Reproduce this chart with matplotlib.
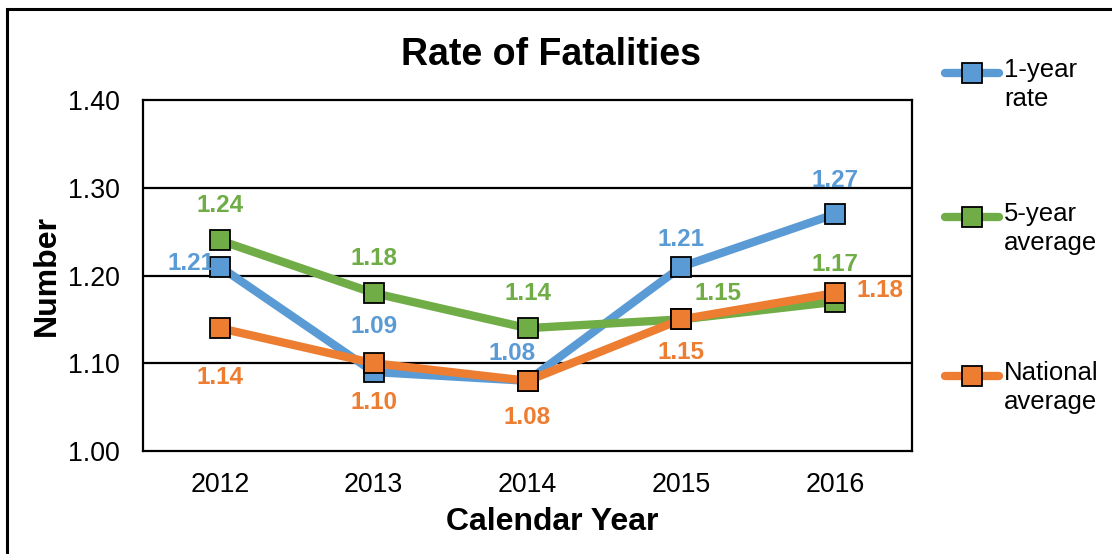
import matplotlib
matplotlib.use('Agg')
import matplotlib.pyplot as plt
from matplotlib.lines import Line2D
from matplotlib.patches import Rectangle

plt.rcParams['font.family'] = ['Liberation Sans', 'DejaVu Sans']

years = ['2012', '2013', '2014', '2015', '2016']
one_year = [1.21, 1.09, 1.08, 1.21, 1.27]
five_year = [1.24, 1.18, 1.14, 1.15, 1.17]
national = [1.14, 1.10, 1.08, 1.15, 1.18]
series_names = ['1-year\nrate', '5-year\naverage', 'National\naverage']
colors = ['#5B9BD5', '#70AD47', '#ED7D31']

# label offsets in pixels (dx, dy), y up
offsets = [
    [(-29, 3), (0, 46), (-15, 27), (0, 27), (0, 34)],
    [(0, 35), (0, 35), (0, 35), (37, 26), (0, 37)],
    [(0, -49), (0, -39), (0, -37), (0, -33), (45, 3)],
]

fig = plt.figure(figsize=(11.12, 5.54), dpi=100)
fig.patch.set_facecolor('white')
ax = fig.add_axes([143 / 1112, 1 - 451 / 554, 769 / 1112, 351 / 554])

x = list(range(len(years)))
for vals, c, offs in zip([one_year, five_year, national], colors, offsets):
    ax.plot(x, vals, color=c, lw=6, marker='s', ms=14.5,
            mfc=c, mec='black', mew=1.3, solid_capstyle='round', zorder=3)
    for xi, v, (dx, dy) in zip(x, vals, offs):
        ax.annotate(f'{v:.2f}', (xi, v), xytext=(dx, dy), textcoords='offset pixels',
                    ha='center', va='center', fontsize=17.5, fontweight='bold',
                    color=c, zorder=4)

ax.set_xlim(-0.5, len(years) - 0.5)
ax.set_ylim(1.0, 1.4)
ax.set_yticks([1.0, 1.1, 1.2, 1.3, 1.4])
ax.set_yticklabels(['1.00', '1.10', '1.20', '1.30', '1.40'])
ax.set_xticks(x)
ax.set_xticklabels(years)
ax.tick_params(axis='both', length=0, labelsize=19.3)
ax.tick_params(axis='y', pad=17)
ax.tick_params(axis='x', pad=15)
for y in [1.1, 1.2, 1.3]:
    ax.axhline(y, color='black', lw=1.6, zorder=1)
for s in ax.spines.values():
    s.set_linewidth(1.6)
    s.set_color('black')

ax.set_xlabel('Calendar Year', fontsize=23, fontweight='bold', labelpad=9)
ax.xaxis.set_label_coords(0.532, -0.16)
ax.set_ylabel('Number', fontsize=23, fontweight='bold', labelpad=4)
fig.text(551 / 1112, 1 - 55 / 554, 'Rate of Fatalities', fontsize=27,
         fontweight='bold', ha='center', va='center')

# legend drawn by hand, handle aligned with first text line
leg_y = [73, 217, 376]
for name, c, ly in zip(series_names, colors, leg_y):
    yf = 1 - ly / 554
    fig.add_artist(Line2D([945 / 1112, 999 / 1112], [yf, yf], color=c, lw=6,
                          solid_capstyle='round', transform=fig.transFigure))
    fig.add_artist(Line2D([972 / 1112], [yf], marker='s', ms=14, mfc=c,
                          mec='black', mew=1.3, transform=fig.transFigure))
    fig.text(1004 / 1112, yf + 15 / 554, name, fontsize=18.5, ha='left', va='top',
             linespacing=1.25)

# outer chart border
fig.add_artist(Rectangle((7 / 1112, -0.1), 1.2, 1 - 9 / 554 + 0.1, fill=False,
                         ec='black', lw=2.2, transform=fig.transFigure))

fig.savefig('out.png', dpi=100)
